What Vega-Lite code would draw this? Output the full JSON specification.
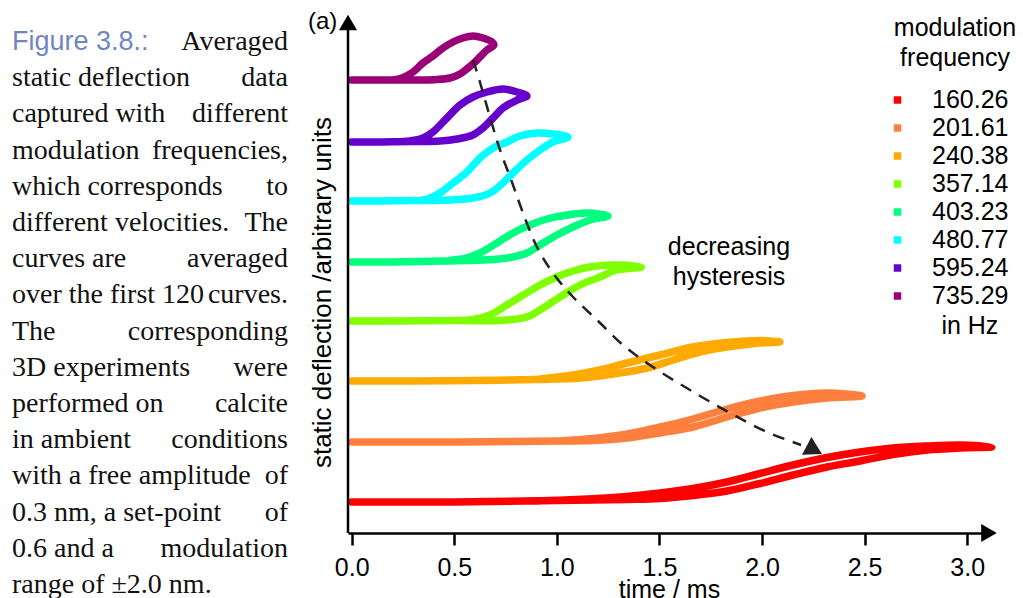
{
 "$schema": "https://vega.github.io/schema/vega-lite/v6.json",
 "padding": {"left": 12, "top": 0, "right": 5, "bottom": 0},
 "background": "white",
 "bounds": "flush",
 "spacing": 60,
 "config": {"view": {"stroke": null}, "font": "Liberation Sans"},
 "datasets": {
  "caption": [
   {"k": 1, "a": "Figure 3.8.:", "b": "Averaged"},
   {"k": 2, "a": "static deflection", "b": "data"},
   {"k": 3, "a": "captured with", "b": "different"},
   {"k": 4, "a": "modulation", "b": "frequencies,"},
   {"k": 5, "a": "which corresponds", "b": "to"},
   {"k": 6, "a": "different velocities.", "b": "The"},
   {"k": 7, "a": "curves are", "b": "averaged"},
   {"k": 8, "a": "over the first 120", "b": "curves."},
   {"k": 9, "a": "The", "b": "corresponding"},
   {"k": 10, "a": "3D experiments", "b": "were"},
   {"k": 11, "a": "performed on", "b": "calcite"},
   {"k": 12, "a": "in ambient", "b": "conditions"},
   {"k": 13, "a": "with a free amplitude", "b": "of"},
   {"k": 14, "a": "0.3 nm, a set-point", "b": "of"},
   {"k": 15, "a": "0.6 and a", "b": "modulation"},
   {"k": 16, "a": "range of ±2.0 nm.", "b": ""}
  ],
  "curves": [
   {"f": "735.29", "o": 1, "t": 0, "d": 453},
   {"f": "735.29", "o": 2, "t": 0.15, "d": 453},
   {"f": "735.29", "o": 3, "t": 0.333, "d": 453},
   {"f": "735.29", "o": 4, "t": 0.416, "d": 453.5},
   {"f": "735.29", "o": 5, "t": 0.479, "d": 455},
   {"f": "735.29", "o": 6, "t": 0.528, "d": 459},
   {"f": "735.29", "o": 7, "t": 0.567, "d": 465},
   {"f": "735.29", "o": 8, "t": 0.601, "d": 471},
   {"f": "735.29", "o": 9, "t": 0.625, "d": 476},
   {"f": "735.29", "o": 10, "t": 0.659, "d": 483},
   {"f": "735.29", "o": 11, "t": 0.693, "d": 488},
   {"f": "735.29", "o": 12, "t": 0.684, "d": 491},
   {"f": "735.29", "o": 13, "t": 0.64, "d": 495},
   {"f": "735.29", "o": 14, "t": 0.591, "d": 497},
   {"f": "735.29", "o": 15, "t": 0.542, "d": 495},
   {"f": "735.29", "o": 16, "t": 0.494, "d": 491},
   {"f": "735.29", "o": 17, "t": 0.445, "d": 485},
   {"f": "735.29", "o": 18, "t": 0.396, "d": 477},
   {"f": "735.29", "o": 19, "t": 0.347, "d": 470},
   {"f": "735.29", "o": 20, "t": 0.299, "d": 461},
   {"f": "735.29", "o": 21, "t": 0.245, "d": 455},
   {"f": "735.29", "o": 22, "t": 0.2, "d": 453},

   {"f": "595.24", "o": 1, "t": 0, "d": 391},
   {"f": "595.24", "o": 2, "t": 0.15, "d": 391},
   {"f": "595.24", "o": 3, "t": 0.3, "d": 391.5},
   {"f": "595.24", "o": 4, "t": 0.43, "d": 392},
   {"f": "595.24", "o": 5, "t": 0.513, "d": 394},
   {"f": "595.24", "o": 6, "t": 0.591, "d": 398},
   {"f": "595.24", "o": 7, "t": 0.64, "d": 405},
   {"f": "595.24", "o": 8, "t": 0.689, "d": 415},
   {"f": "595.24", "o": 9, "t": 0.737, "d": 425},
   {"f": "595.24", "o": 10, "t": 0.806, "d": 433},
   {"f": "595.24", "o": 11, "t": 0.854, "d": 437},
   {"f": "595.24", "o": 12, "t": 0.806, "d": 441},
   {"f": "595.24", "o": 13, "t": 0.737, "d": 444},
   {"f": "595.24", "o": 14, "t": 0.66, "d": 441},
   {"f": "595.24", "o": 15, "t": 0.591, "d": 436},
   {"f": "595.24", "o": 16, "t": 0.528, "d": 428},
   {"f": "595.24", "o": 17, "t": 0.464, "d": 415},
   {"f": "595.24", "o": 18, "t": 0.396, "d": 401},
   {"f": "595.24", "o": 19, "t": 0.348, "d": 395},
   {"f": "595.24", "o": 20, "t": 0.284, "d": 392},
   {"f": "595.24", "o": 21, "t": 0.25, "d": 391.5},

   {"f": "480.77", "o": 1, "t": 0, "d": 332},
   {"f": "480.77", "o": 2, "t": 0.15, "d": 332},
   {"f": "480.77", "o": 3, "t": 0.3, "d": 332.5},
   {"f": "480.77", "o": 4, "t": 0.479, "d": 333},
   {"f": "480.77", "o": 5, "t": 0.591, "d": 335},
   {"f": "480.77", "o": 6, "t": 0.674, "d": 340},
   {"f": "480.77", "o": 7, "t": 0.737, "d": 350},
   {"f": "480.77", "o": 8, "t": 0.786, "d": 360},
   {"f": "480.77", "o": 9, "t": 0.854, "d": 373},
   {"f": "480.77", "o": 10, "t": 0.918, "d": 383},
   {"f": "480.77", "o": 11, "t": 0.981, "d": 391},
   {"f": "480.77", "o": 12, "t": 1.054, "d": 396},
   {"f": "480.77", "o": 13, "t": 0.981, "d": 399},
   {"f": "480.77", "o": 14, "t": 0.903, "d": 400},
   {"f": "480.77", "o": 15, "t": 0.82, "d": 397},
   {"f": "480.77", "o": 16, "t": 0.757, "d": 391},
   {"f": "480.77", "o": 17, "t": 0.689, "d": 385},
   {"f": "480.77", "o": 18, "t": 0.625, "d": 375},
   {"f": "480.77", "o": 19, "t": 0.562, "d": 361},
   {"f": "480.77", "o": 20, "t": 0.494, "d": 350},
   {"f": "480.77", "o": 21, "t": 0.43, "d": 340},
   {"f": "480.77", "o": 22, "t": 0.367, "d": 334},
   {"f": "480.77", "o": 23, "t": 0.3, "d": 332.5},

   {"f": "403.23", "o": 1, "t": 0, "d": 271},
   {"f": "403.23", "o": 2, "t": 0.2, "d": 271},
   {"f": "403.23", "o": 3, "t": 0.45, "d": 272},
   {"f": "403.23", "o": 4, "t": 0.642, "d": 273},
   {"f": "403.23", "o": 5, "t": 0.757, "d": 275},
   {"f": "403.23", "o": 6, "t": 0.854, "d": 280},
   {"f": "403.23", "o": 7, "t": 0.918, "d": 288},
   {"f": "403.23", "o": 8, "t": 1.0, "d": 298},
   {"f": "403.23", "o": 9, "t": 1.079, "d": 306},
   {"f": "403.23", "o": 10, "t": 1.162, "d": 313},
   {"f": "403.23", "o": 11, "t": 1.249, "d": 317},
   {"f": "403.23", "o": 12, "t": 1.147, "d": 320},
   {"f": "403.23", "o": 13, "t": 1.049, "d": 318},
   {"f": "403.23", "o": 14, "t": 0.952, "d": 314},
   {"f": "403.23", "o": 15, "t": 0.869, "d": 308},
   {"f": "403.23", "o": 16, "t": 0.786, "d": 300},
   {"f": "403.23", "o": 17, "t": 0.708, "d": 290},
   {"f": "403.23", "o": 18, "t": 0.625, "d": 280},
   {"f": "403.23", "o": 19, "t": 0.562, "d": 275},
   {"f": "403.23", "o": 20, "t": 0.479, "d": 272.5},

   {"f": "357.14", "o": 1, "t": 0, "d": 212},
   {"f": "357.14", "o": 2, "t": 0.2, "d": 212},
   {"f": "357.14", "o": 3, "t": 0.5, "d": 212.5},
   {"f": "357.14", "o": 4, "t": 0.723, "d": 212.5},
   {"f": "357.14", "o": 5, "t": 0.854, "d": 216},
   {"f": "357.14", "o": 6, "t": 0.933, "d": 225},
   {"f": "357.14", "o": 7, "t": 1.015, "d": 236},
   {"f": "357.14", "o": 8, "t": 1.113, "d": 248},
   {"f": "357.14", "o": 9, "t": 1.21, "d": 256},
   {"f": "357.14", "o": 10, "t": 1.29, "d": 263},
   {"f": "357.14", "o": 11, "t": 1.413, "d": 266},
   {"f": "357.14", "o": 12, "t": 1.276, "d": 268},
   {"f": "357.14", "o": 13, "t": 1.176, "d": 266.5},
   {"f": "357.14", "o": 14, "t": 1.079, "d": 262},
   {"f": "357.14", "o": 15, "t": 0.999, "d": 256},
   {"f": "357.14", "o": 16, "t": 0.918, "d": 248},
   {"f": "357.14", "o": 17, "t": 0.836, "d": 238},
   {"f": "357.14", "o": 18, "t": 0.756, "d": 228},
   {"f": "357.14", "o": 19, "t": 0.674, "d": 218},
   {"f": "357.14", "o": 20, "t": 0.591, "d": 213.5},
   {"f": "357.14", "o": 21, "t": 0.5, "d": 212.5},

   {"f": "240.38", "o": 1, "t": 0, "d": 152},
   {"f": "240.38", "o": 2, "t": 0.3, "d": 152},
   {"f": "240.38", "o": 3, "t": 0.6, "d": 152.5},
   {"f": "240.38", "o": 4, "t": 0.9, "d": 153.5},
   {"f": "240.38", "o": 5, "t": 1.113, "d": 155},
   {"f": "240.38", "o": 6, "t": 1.274, "d": 159},
   {"f": "240.38", "o": 7, "t": 1.44, "d": 165},
   {"f": "240.38", "o": 8, "t": 1.567, "d": 173},
   {"f": "240.38", "o": 9, "t": 1.697, "d": 181},
   {"f": "240.38", "o": 10, "t": 1.829, "d": 186},
   {"f": "240.38", "o": 11, "t": 1.99, "d": 190},
   {"f": "240.38", "o": 12, "t": 2.087, "d": 191},
   {"f": "240.38", "o": 13, "t": 1.99, "d": 192.5},
   {"f": "240.38", "o": 14, "t": 1.829, "d": 190.5},
   {"f": "240.38", "o": 15, "t": 1.663, "d": 186},
   {"f": "240.38", "o": 16, "t": 1.503, "d": 178},
   {"f": "240.38", "o": 17, "t": 1.342, "d": 170},
   {"f": "240.38", "o": 18, "t": 1.21, "d": 163},
   {"f": "240.38", "o": 19, "t": 1.064, "d": 157.5},
   {"f": "240.38", "o": 20, "t": 0.918, "d": 154},

   {"f": "201.61", "o": 1, "t": 0, "d": 91},
   {"f": "201.61", "o": 2, "t": 0.4, "d": 91},
   {"f": "201.61", "o": 3, "t": 0.8, "d": 91.5},
   {"f": "201.61", "o": 4, "t": 1.015, "d": 92},
   {"f": "201.61", "o": 5, "t": 1.176, "d": 92.5},
   {"f": "201.61", "o": 6, "t": 1.342, "d": 95},
   {"f": "201.61", "o": 7, "t": 1.503, "d": 100},
   {"f": "201.61", "o": 8, "t": 1.663, "d": 106},
   {"f": "201.61", "o": 9, "t": 1.829, "d": 116},
   {"f": "201.61", "o": 10, "t": 1.99, "d": 125},
   {"f": "201.61", "o": 11, "t": 2.151, "d": 131},
   {"f": "201.61", "o": 12, "t": 2.317, "d": 135},
   {"f": "201.61", "o": 13, "t": 2.487, "d": 137},
   {"f": "201.61", "o": 14, "t": 2.317, "d": 140},
   {"f": "201.61", "o": 15, "t": 2.151, "d": 137.5},
   {"f": "201.61", "o": 16, "t": 1.99, "d": 132},
   {"f": "201.61", "o": 17, "t": 1.829, "d": 124},
   {"f": "201.61", "o": 18, "t": 1.663, "d": 114},
   {"f": "201.61", "o": 19, "t": 1.503, "d": 106},
   {"f": "201.61", "o": 20, "t": 1.342, "d": 99},
   {"f": "201.61", "o": 21, "t": 1.176, "d": 94.5},
   {"f": "201.61", "o": 22, "t": 1.015, "d": 92},

   {"f": "160.26", "o": 1, "t": 0, "d": 31},
   {"f": "160.26", "o": 2, "t": 0.5, "d": 31},
   {"f": "160.26", "o": 3, "t": 1.0, "d": 32.5},
   {"f": "160.26", "o": 4, "t": 1.342, "d": 33.5},
   {"f": "160.26", "o": 5, "t": 1.503, "d": 34.5},
   {"f": "160.26", "o": 6, "t": 1.663, "d": 37.5},
   {"f": "160.26", "o": 7, "t": 1.829, "d": 42},
   {"f": "160.26", "o": 8, "t": 1.99, "d": 49.5},
   {"f": "160.26", "o": 9, "t": 2.151, "d": 58},
   {"f": "160.26", "o": 10, "t": 2.317, "d": 66},
   {"f": "160.26", "o": 11, "t": 2.477, "d": 72},
   {"f": "160.26", "o": 12, "t": 2.638, "d": 78.5},
   {"f": "160.26", "o": 13, "t": 2.804, "d": 83},
   {"f": "160.26", "o": 14, "t": 2.965, "d": 85},
   {"f": "160.26", "o": 15, "t": 3.12, "d": 86},
   {"f": "160.26", "o": 16, "t": 2.965, "d": 88},
   {"f": "160.26", "o": 17, "t": 2.804, "d": 87},
   {"f": "160.26", "o": 18, "t": 2.638, "d": 85},
   {"f": "160.26", "o": 19, "t": 2.477, "d": 81},
   {"f": "160.26", "o": 20, "t": 2.317, "d": 75.5},
   {"f": "160.26", "o": 21, "t": 2.151, "d": 68},
   {"f": "160.26", "o": 22, "t": 1.99, "d": 59.5},
   {"f": "160.26", "o": 23, "t": 1.829, "d": 51},
   {"f": "160.26", "o": 24, "t": 1.663, "d": 44.5},
   {"f": "160.26", "o": 25, "t": 1.503, "d": 40},
   {"f": "160.26", "o": 26, "t": 1.342, "d": 36.5},
   {"f": "160.26", "o": 27, "t": 1.1, "d": 33.5},
   {"f": "160.26", "o": 28, "t": 0.9, "d": 32}
  ],
  "dash": [
   {"o": 1, "t": 0.592, "d": 473},
   {"o": 2, "t": 0.625, "d": 451},
   {"o": 3, "t": 0.674, "d": 416},
   {"o": 4, "t": 0.723, "d": 383},
   {"o": 5, "t": 0.781, "d": 351},
   {"o": 6, "t": 0.835, "d": 320},
   {"o": 7, "t": 0.903, "d": 286},
   {"o": 8, "t": 0.981, "d": 260},
   {"o": 9, "t": 1.079, "d": 236},
   {"o": 10, "t": 1.196, "d": 213},
   {"o": 11, "t": 1.322, "d": 188},
   {"o": 12, "t": 1.468, "d": 166},
   {"o": 13, "t": 1.649, "d": 143},
   {"o": 14, "t": 1.844, "d": 120},
   {"o": 15, "t": 2.024, "d": 101},
   {"o": 16, "t": 2.19, "d": 88}
  ]
 },
 "hconcat": [
  {
   "width": 276,
   "height": 598,
   "data": {"name": "caption"},
   "encoding": {
    "y": {"field": "k", "type": "quantitative", "scale": {"domain": [-0.381, 16.138], "reverse": true, "nice": false, "zero": false}, "axis": null}
   },
   "layer": [
    {
     "transform": [{"filter": "datum.k == 1"}],
     "mark": {"type": "text", "align": "left", "baseline": "alphabetic", "font": "Liberation Sans", "fontSize": 27, "color": "#6f86c4"},
     "encoding": {
      "x": {"datum": 0, "type": "quantitative", "scale": {"domain": [0, 1], "nice": false, "zero": false}, "axis": null},
      "text": {"field": "a"}
     }
    },
    {
     "transform": [{"filter": "datum.k > 1"}],
     "mark": {"type": "text", "align": "left", "baseline": "alphabetic", "font": "Liberation Serif", "fontSize": 28, "color": "#111111"},
     "encoding": {
      "x": {"datum": 0, "type": "quantitative"},
      "text": {"field": "a"}
     }
    },
    {
     "mark": {"type": "text", "align": "right", "baseline": "alphabetic", "font": "Liberation Serif", "fontSize": 28, "color": "#111111"},
     "encoding": {
      "x": {"datum": 1, "type": "quantitative"},
      "text": {"field": "b"}
     }
    }
   ]
  },
  {
   "width": 642,
   "height": 533,
   "layer": [
    {
     "data": {"name": "curves"},
     "mark": {"type": "line", "strokeWidth": 7.5, "strokeCap": "round", "strokeJoin": "round", "interpolate": "catmull-rom"},
     "encoding": {
      "x": {
       "field": "t", "type": "quantitative",
       "scale": {"domain": [-0.018, 3.111], "nice": false, "zero": false},
       "axis": {
        "values": [0, 0.5, 1, 1.5, 2, 2.5, 3], "format": ".1f", "title": "time / ms", "grid": false,
        "domainColor": "black", "domainWidth": 2.5, "tickColor": "black", "tickWidth": 2.5, "tickSize": 12,
        "labelFont": "Liberation Sans", "labelFontSize": 25, "labelColor": "black", "labelPadding": 10, "labelFlush": false, "labelOverlap": false,
        "titleFont": "Liberation Sans", "titleFontSize": 25, "titleFontWeight": "normal", "titleColor": "black", "titlePadding": -3
       }
      },
      "y": {
       "field": "d", "type": "quantitative",
       "scale": {"domain": [0, 533], "nice": false, "zero": false},
       "axis": {
        "domain": false, "ticks": false, "labels": false, "grid": false,
        "title": "static deflection /arbitrary units",
        "titleFont": "Liberation Sans", "titleFontSize": 26, "titleFontWeight": "normal", "titleColor": "black",
        "titlePadding": 13, "titleY": 292
       }
      },
      "color": {
       "field": "f", "type": "nominal",
       "scale": {
        "domain": ["160.26", "201.61", "240.38", "357.14", "403.23", "480.77", "595.24", "735.29"],
        "range": ["#ff0000", "#ff7f3f", "#ffaa00", "#80ff00", "#00ff80", "#00ffff", "#6600cc", "#990077"]
       },
       "legend": {
        "orient": "none", "legendX": 873, "legendY": 16, "padding": 0,
        "title": ["modulation", "frequency"],
        "titleFont": "Liberation Sans", "titleFontSize": 25, "titleFontWeight": "normal", "titleColor": "black",
        "titleLineHeight": 30, "titleAnchor": "middle", "titleAlign": "center", "titlePadding": 16.5,
        "labelFont": "Liberation Sans", "labelFontSize": 25, "labelColor": "black", "labelOffset": 22, "labelLimit": 300,
        "rowPadding": 2, "symbolType": "square", "symbolSize": 56, "symbolStrokeWidth": 0,
        "encode": {
         "title": {"update": {"dx": {"value": 8}}},
         "symbols": {"update": {"fill": {"scale": "color", "field": "value"}, "fillOpacity": {"value": 1}, "strokeWidth": {"value": 0}, "shape": {"value": "square"}}}
        }
       }
      },
      "order": {"field": "o", "type": "quantitative"}
     }
    },
    {
     "data": {"values": [{}]},
     "mark": {"type": "rule", "strokeWidth": 2.5, "color": "black"},
     "encoding": {
      "x": {"datum": -0.018, "type": "quantitative"},
      "y": {"datum": 0, "type": "quantitative"},
      "y2": {"datum": 510}
     }
    },
    {
     "data": {"values": [{}]},
     "mark": {"type": "point", "shape": "triangle-up", "size": 324, "filled": true, "opacity": 1, "color": "black"},
     "encoding": {
      "x": {"datum": -0.018, "type": "quantitative"},
      "y": {"datum": 510.5, "type": "quantitative"}
     }
    },
    {
     "data": {"values": [{}]},
     "mark": {"type": "point", "shape": "triangle-right", "size": 324, "filled": true, "opacity": 1, "color": "black"},
     "encoding": {
      "x": {"datum": 3.106, "type": "quantitative"},
      "y": {"datum": 0, "type": "quantitative"}
     }
    },
    {
     "data": {"name": "dash"},
     "mark": {"type": "line", "strokeWidth": 2.5, "strokeDash": [12, 9], "color": "#222222", "interpolate": "catmull-rom"},
     "encoding": {
      "x": {"field": "t", "type": "quantitative"},
      "y": {"field": "d", "type": "quantitative"},
      "order": {"field": "o", "type": "quantitative"}
     }
    },
    {
     "data": {"values": [{}]},
     "mark": {"type": "point", "shape": "triangle-right", "size": 400, "angle": 28, "filled": true, "opacity": 1, "color": "#222222"},
     "encoding": {
      "x": {"datum": 2.255, "type": "quantitative"},
      "y": {"datum": 83, "type": "quantitative"}
     }
    },
    {
     "data": {"values": [{}]},
     "mark": {"type": "text", "text": ["decreasing", "hysteresis"], "lineHeight": 30, "font": "Liberation Sans", "fontSize": 25, "align": "center", "baseline": "middle", "color": "black"},
     "encoding": {
      "x": {"datum": 1.839, "type": "quantitative"},
      "y": {"datum": 286, "type": "quantitative"}
     }
    },
    {
     "data": {"values": [{}]},
     "mark": {"type": "text", "text": "(a)", "font": "Liberation Sans", "fontSize": 24, "align": "center", "baseline": "middle", "color": "black"},
     "encoding": {
      "x": {"datum": -0.142, "type": "quantitative"},
      "y": {"datum": 511, "type": "quantitative"}
     }
    },
    {
     "data": {"values": [{}]},
     "mark": {"type": "text", "text": "in Hz", "font": "Liberation Sans", "fontSize": 25, "align": "center", "baseline": "middle", "color": "black"},
     "encoding": {
      "x": {"datum": 3.013, "type": "quantitative"},
      "y": {"datum": 207, "type": "quantitative"}
     }
    }
   ]
  }
 ]
}
